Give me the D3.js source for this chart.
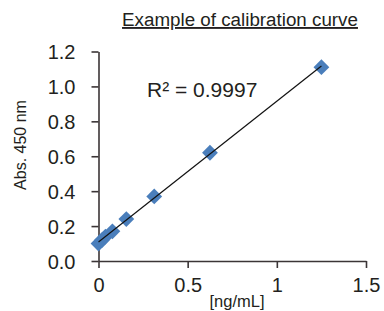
<!DOCTYPE html>
<html>
<head>
<meta charset="utf-8">
<script src="https://cdn.jsdelivr.net/npm/d3@7"></script>
<style>
  html, body { margin: 0; padding: 0; background: #fff; }
  svg { display: block; }
  text { font-family: "Liberation Sans", Arial, sans-serif; fill: #231f20; }
</style>
</head>
<body>
<div id="chart"></div>
<script>
// standard concentrations (ng/mL) and absorbance readings at 450 nm
let conc = [0, 0.0195, 0.039, 0.078, 0.156, 0.3125, 0.625, 1.25];
let absorb = [0.10, 0.12, 0.14, 0.17, 0.24, 0.37, 0.62, 1.11];
let xTicks = [0, 0.5, 1, 1.5];
let yTicks = [0, 0.2, 0.4, 0.6, 0.8, 1.0, 1.2];
let title = 'Example of calibration curve';
let rLabel = 'R\u00b2 = 0.9997';

let width = 384,
    height = 311,
    margin = {top: 51.5, right: 18, bottom: 50, left: 98.5};

let ink = '#231f20',
    axisColor = '#3b3536',
    markerColor = '#4a7ebb';

let svg = d3.select('#chart')
  .append('svg')
  .attr('width', width)
  .attr('height', height);

let x = d3.scaleLinear()
  .domain([0, 1.5])
  .range([margin.left, width - margin.right]);

let y = d3.scaleLinear()
  .domain([0, 1.2])
  .range([height - margin.bottom, margin.top]);

// axes
let xAxis = svg.append('g')
  .attr('transform', 'translate(0,' + y(0) + ')')
  .call(d3.axisBottom(x).tickValues(xTicks).tickSize(7).tickSizeOuter(0)
    .tickPadding(10).tickFormat(d3.format('')));

let yAxis = svg.append('g')
  .attr('transform', 'translate(' + x(0) + ',0)')
  .call(d3.axisLeft(y).tickValues(yTicks).tickSize(7).tickSizeOuter(0)
    .tickPadding(16).tickFormat(d3.format('.1f')));

[xAxis, yAxis].forEach(g => {
  g.selectAll('path, line').attr('stroke', axisColor).attr('stroke-width', 1.6);
  g.selectAll('text')
    .attr('fill', ink)
    .style('font-family', '"Liberation Sans", Arial, sans-serif')
    .style('font-size', '20px');
});
yAxis.selectAll('text').attr('dy', '0.36em');

// least squares trendline over the data range
let mx = d3.mean(conc), my = d3.mean(absorb);
let sxy = d3.sum(conc, (c, i) => (c - mx) * (absorb[i] - my));
let sxx = d3.sum(conc, c => (c - mx) * (c - mx));
let slope = sxy / sxx, intercept = my - slope * mx;
let ext = d3.extent(conc);

// markers (rotated squares, like the spreadsheet diamonds)
let diamond = d3.symbol().type(d3.symbolSquare).size(125);
svg.append('g')
  .selectAll('path')
  .data(conc)
  .enter().append('path')
  .attr('d', diamond)
  .attr('transform', (d, i) => 'translate(' + x(d) + ',' + y(absorb[i]) + ') rotate(45)')
  .attr('fill', markerColor);

svg.append('line')
  .attr('x1', x(ext[0])).attr('y1', y(intercept + slope * ext[0]))
  .attr('x2', x(ext[1])).attr('y2', y(intercept + slope * ext[1]))
  .attr('stroke', '#111')
  .attr('stroke-width', 1.2);

// texts
svg.append('text')
  .attr('x', 240).attr('y', 26)
  .attr('text-anchor', 'middle')
  .style('font-size', '18.8px')
  .style('text-decoration', 'underline')
  .text(title);

svg.append('text')
  .attr('x', 147).attr('y', 97)
  .style('font-size', '21px')
  .text(rLabel);

svg.append('text')
  .attr('transform', 'translate(26,145) rotate(-90)')
  .attr('text-anchor', 'middle')
  .style('font-size', '16px')
  .text('Abs. 450 nm');

svg.append('text')
  .attr('x', 237).attr('y', 307)
  .attr('text-anchor', 'middle')
  .style('font-size', '16.5px')
  .text('[ng/mL]');
</script>
</body>
</html>
